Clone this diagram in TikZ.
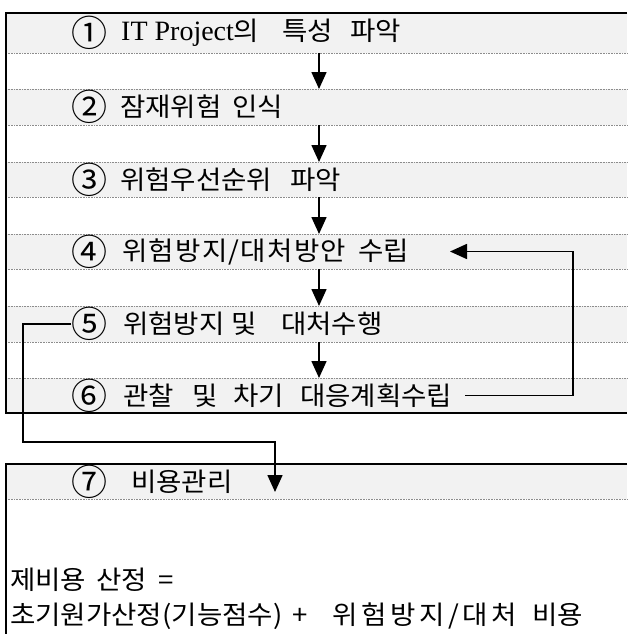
\documentclass[tikz,border=0pt]{standalone}
\usepackage{fontspec}
\setmainfont{Liberation Serif}
\newfontfamily\kr[FakeStretch=1.06]{Noto Sans CJK KR}
\newfontfamily\krnum{Noto Sans CJK KR}
\usetikzlibrary{arrows.meta,calc}
\definecolor{rowgray}{RGB}{242,242,242}
\definecolor{dotgray}{RGB}{140,140,140}
\newcommand{\wbox}[2]{\makebox[#1pt][l]{#2}}
\newcommand{\spread}[2]{{\addfontfeatures{LetterSpace=#1}#2}}
\begin{document}
\begin{tikzpicture}[x=1pt,y=-1pt,
  rowband/.style={fill=rowgray, draw=none, inner sep=0pt, outer sep=0pt, minimum width=621pt, anchor=north west},
  sep/.style={draw=dotgray, line width=0.7pt, dash pattern=on 0.8pt off 0.8pt},
  frame/.style={line width=2.2pt, line join=miter},
  lbl/.style={anchor=west, inner sep=0pt, font=\kr\fontsize{26}{30}\selectfont},
  num/.style={anchor=west, inner sep=0pt, font=\krnum\fontsize{36}{40}\selectfont},
  arr/.style={line width=1.6pt, -{Triangle[length=17pt,width=15pt]}},
]
\useasboundingbox (0,0) rectangle (627,634);
% row bands
\node[rowband, minimum height=40pt] (r1) at (6,13) {};
\node[rowband, minimum height=36pt] (r2) at (6,89) {};
\node[rowband, minimum height=35pt] (r3) at (6,162) {};
\node[rowband, minimum height=35pt] (r4) at (6,234) {};
\node[rowband, minimum height=36pt] (r5) at (6,306) {};
\node[rowband, minimum height=35pt] (r6) at (6,378) {};
\node[rowband, minimum height=35pt] (r7) at (6,464) {};
% dotted separators
\foreach \r in {r1,r2,r3,r4,r5,r7}{\draw[sep] (\r.south west) -- (\r.south east);}
\foreach \r in {r2,r3,r4,r5,r6}{\draw[sep] (\r.north west) -- (\r.north east);}
% frames
\coordinate (bot) at (6,636);
\draw[frame] (r1.north east) -- (r1.north west) -- (r6.south west) -- (r6.south east);
\draw[frame] (r7.north east) -- (r7.north west) -- (bot);
% numbers
\node[num] (n1) at (71,33) {①};
\node[num] (n2) at (71,107) {②};
\node[num] (n3) at (71,179.5) {③};
\node[num] (n4) at (71,251.5) {④};
\node[num] (n5) at (71,324) {⑤};
\node[num] (n6) at (71,395.5) {⑥};
\node[num] (n7) at (71,481.5) {⑦};
% texts
\node[lbl] (t1) at (121,33) {\wbox{161}{{\rmfamily\fontsize{28}{30}\selectfont IT Project}의}\wbox{68}{특성}파악};
\node[lbl] (t2) at (120,107) {\wbox{112}{잠재위험}인식};
\node[lbl] (t3) at (120,179.5) {\wbox{170}{위험우선순위}파악};
\node[lbl] (t4) at (122,251.5) {\wbox{236}{\spread{5}{위험방지/대처방안}}수립};
\node[lbl] (t5) at (123,324) {\wbox{108}{위험방지}\wbox{50}{및}대처수행};
\node[lbl] (t6) at (123,395.5) {\wbox{69}{관찰}\wbox{41}{및}\wbox{67}{차기}대응계획수립};
\node[lbl] (t7) at (131,481.5) {비용관리};
\node[lbl] (c1) at (10,580) {\wbox{86}{제비용}\wbox{62}{산정}=};
\node[lbl] (c2) at (10,616) {\wbox{282}{초기원가산정(기능점수)}\wbox{40}{+}\wbox{200}{\spread{14}{위험방지/대처}}비용};
% down arrows
\coordinate (ax) at (319,0);
\draw[arr] (r1.south -| ax) -- (r2.north -| ax);
\draw[arr] (r2.south -| ax) -- (r3.north -| ax);
\draw[arr] (r3.south -| ax) -- (r4.north -| ax);
\draw[arr] (r4.south -| ax) -- (r5.north -| ax);
\draw[arr] (r5.south -| ax) -- (r6.north -| ax);
% feedback loop 6 -> 4
\coordinate (fbs) at (465,395.5);
\coordinate (fbx) at (573,251.5);
\coordinate (fbe) at (450,251.5);
\draw[arr] (fbs) -| (fbx) -- (fbe);
% link 5 -> 7
\coordinate (lk) at (23,442);
\coordinate (a7) at (275,492);
\draw[arr] (n5.west) -| (lk) -| (a7);
\end{tikzpicture}
\end{document}
